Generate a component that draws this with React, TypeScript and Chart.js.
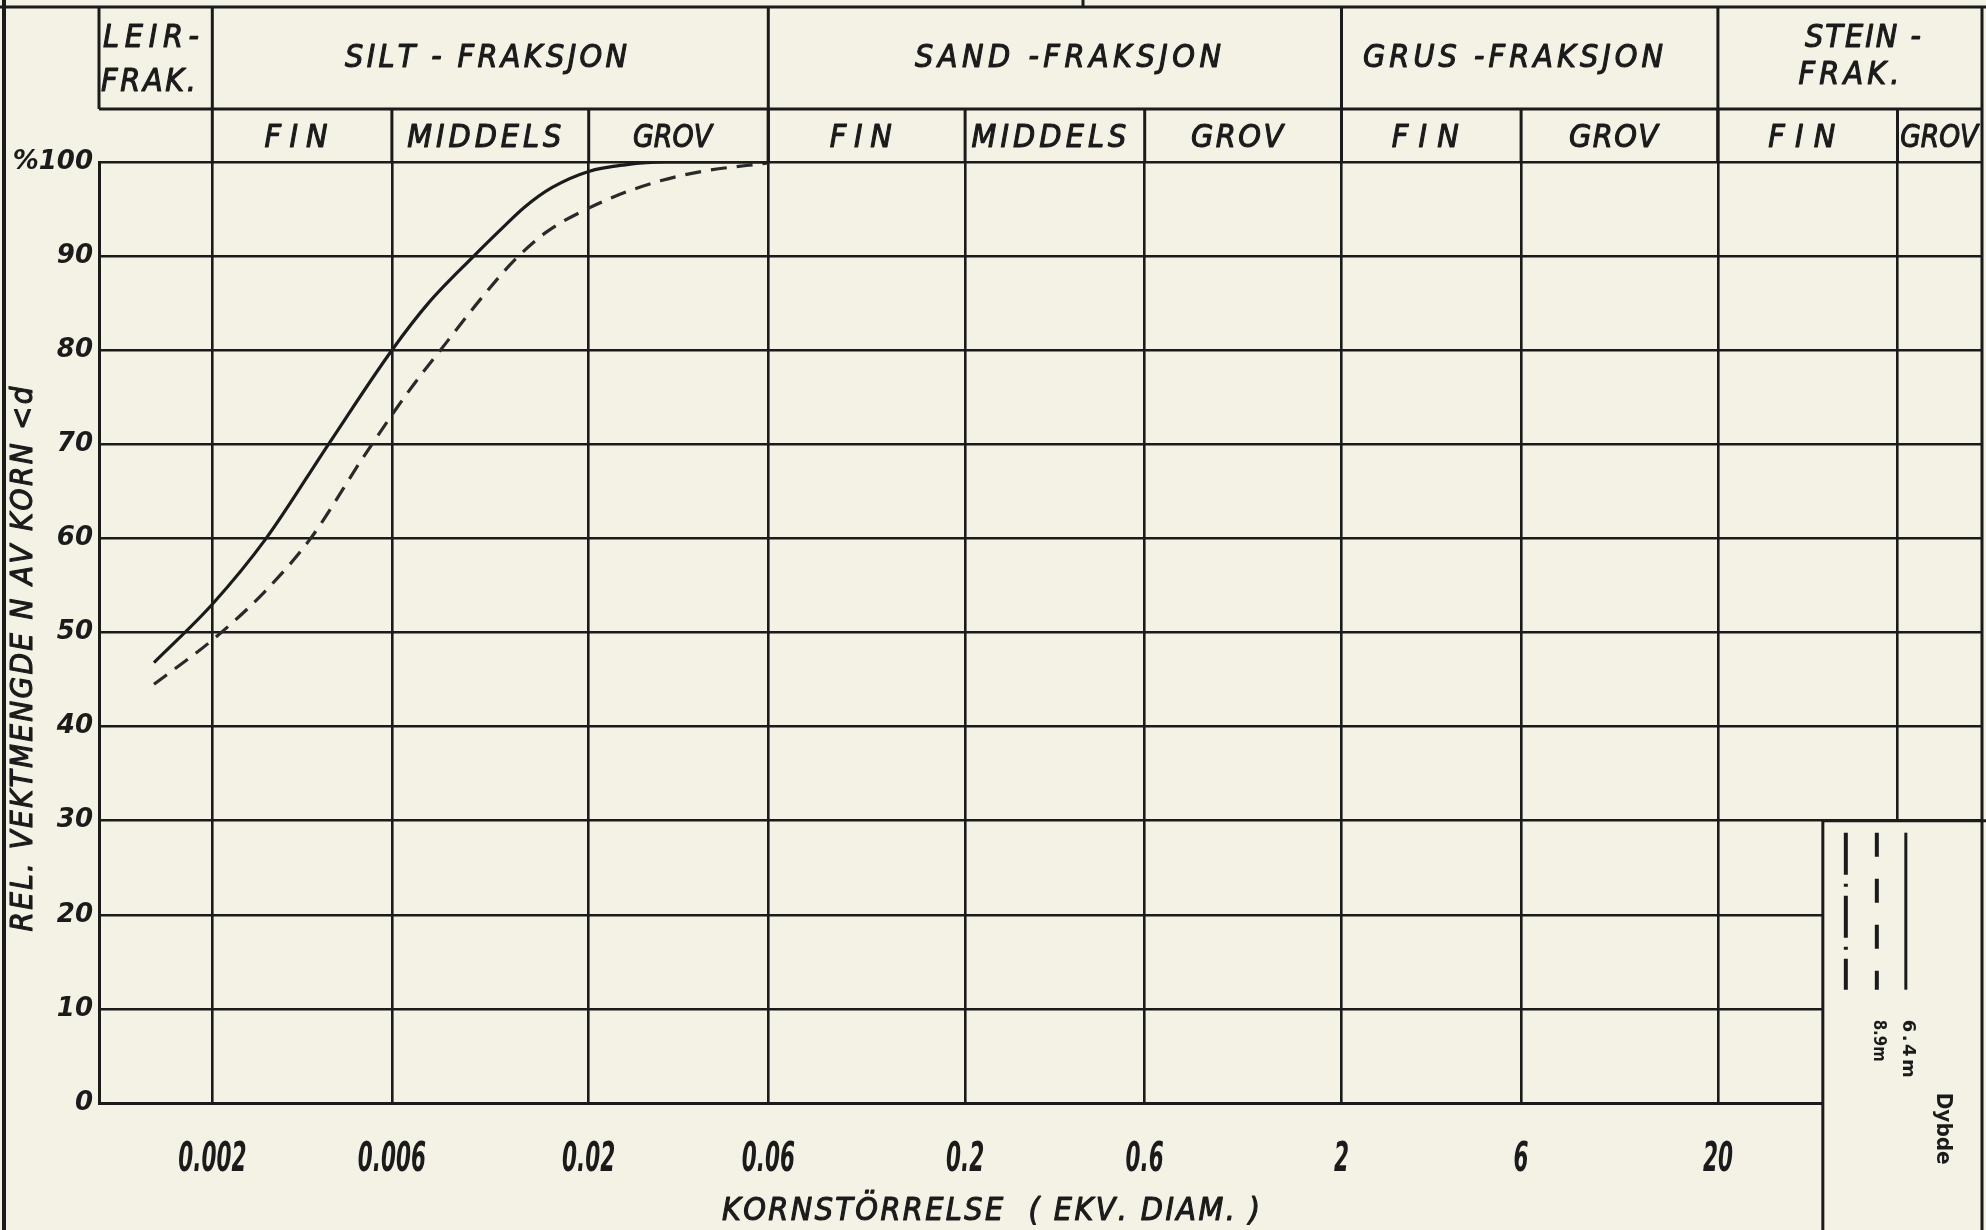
import React, { useEffect, useRef } from 'react';
import { Chart, registerables } from 'chart.js';

Chart.register(...registerables);

// ---------------- data ----------------
const xTickValues = [0.002, 0.006, 0.02, 0.06, 0.2, 0.6, 2, 6, 20, 60];
const xTickLabels = ['0.002', '0.006', '0.02', '0.06', '0.2', '0.6', '2', '6', '20', ''];
const yTickValues = [0, 10, 20, 30, 40, 50, 60, 70, 80, 90, 100];
const yTickLabels = ['0', '10', '20', '30', '40', '50', '60', '70', '80', '90', '%100'];

const fractionBounds = [0.001, 0.002, 0.06, 2, 20, 100];
const fractionLabels = [['LEIR-', 'FRAK.'], ['SILT - FRAKSJON'], ['SAND -FRAKSJON'], ['GRUS -FRAKSJON'], ['STEIN -', 'FRAK.']];
const subBounds = [0.002, 0.006, 0.02, 0.06, 0.2, 0.6, 2, 6, 20, 60, 100];
const subLabels = ['FIN', 'MIDDELS', 'GROV', 'FIN', 'MIDDELS', 'GROV', 'FIN', 'GROV', 'FIN', 'GROV'];

// grain size (mm) and cumulative percent finer, depth 6.4 m (solid)
const size64 = [0.0014, 0.002, 0.00278, 0.00407, 0.006, 0.0075, 0.0099, 0.0118, 0.0135, 0.016, 0.02, 0.025, 0.032, 0.06];
const pass64 = [46.8, 53.0, 60.0, 70.0, 80.0, 85.0, 90.0, 93.0, 95.2, 97.3, 99.0, 99.7, 100, 100];
// depth 8.9 m (dashed)
const size89 = [0.0014, 0.002, 0.00275, 0.00365, 0.00505, 0.00664, 0.00833, 0.01031, 0.01272, 0.0155, 0.02, 0.0251, 0.031, 0.04, 0.06];
const pass89 = [44.5, 49.2, 54.3, 60, 68.7, 75.6, 80.7, 85.4, 89.6, 92.6, 95.1, 96.8, 98, 99, 99.9];

const legendLabels = ['6.4m', '8.9m'];
const legendTitle = 'Dybde';
const yTitle = 'REL. VEKTMENGDE N AV KORN <d';
const xTitle = 'KORNSTÖRRELSE  ( EKV. DIAM. )';

// ---------------- styles / layout ----------------
const W = 1986;
const H = 1230;
const BG = '#f3f2e5';
const INK = '#1b1b1b';
const NARROW = '"Liberation Sans Narrow", "DejaVu Sans Condensed", "Liberation Sans", sans-serif';
const HEADER_TOP = 7;
const HEADER_MID = 109;
const row1TextWidths = [[96, 95], [282], [306], [300], [116, 101]];
const row1TextX = [null, 486, 1068, 1513, [1863, 1849]];
const row2TextWidths = [63, 154, 79, 62, 155, 92, 67, 89, 67, 78];
const LEGEND_FROM = 38; // x value where legend box starts
const LEGEND_TOP_Y = 30; // y value where legend box starts

function fitText(ctx: CanvasRenderingContext2D, text: string, cx: number, cy: number, width: number, bold = 1.1) {
  const chars = Array.from(text);
  const widths = chars.map((c) => ctx.measureText(c).width);
  const total = widths.reduce((a, b) => a + b, 0);
  let gap = chars.length > 1 ? (width - total) / (chars.length - 1) : 0;
  let sx = 1;
  if (gap < 0) {
    sx = width / total;
    gap = 0;
  }
  ctx.save();
  ctx.translate(cx - width / 2, cy);
  ctx.scale(sx, 1);
  ctx.textAlign = 'left';
  ctx.textBaseline = 'middle';
  ctx.lineWidth = bold;
  ctx.strokeStyle = ctx.fillStyle as string;
  ctx.lineJoin = 'round';
  let x = 0;
  chars.forEach((c, i) => {
    ctx.fillText(c, x, 0);
    if (bold > 0) ctx.strokeText(c, x, 0);
    x += widths[i] + gap / sx;
  });
  ctx.restore();
}

function squeezeText(ctx: CanvasRenderingContext2D, text: string, cx: number, cy: number, sx: number) {
  ctx.save();
  ctx.translate(cx, cy);
  ctx.scale(sx, 1);
  ctx.textAlign = 'center';
  ctx.textBaseline = 'middle';
  ctx.fillText(text, 0, 0);
  ctx.restore();
}

function seg(ctx: CanvasRenderingContext2D, x1: number, y1: number, x2: number, y2: number) {
  ctx.beginPath();
  ctx.moveTo(x1, y1);
  ctx.lineTo(x2, y2);
  ctx.stroke();
}

const sheetPlugin = {
  id: 'sheet',
  beforeDraw(chart: any) {
    const ctx = chart.ctx;
    ctx.save();
    ctx.fillStyle = BG;
    ctx.fillRect(0, 0, chart.width, chart.height);
    ctx.restore();
  },
  afterDraw(chart: any) {
    const ctx: CanvasRenderingContext2D = chart.ctx;
    const xs = chart.scales.x;
    const ys = chart.scales.y;
    const ca = chart.chartArea;
    const px = (v: number) => xs.getPixelForValue(v);
    ctx.save();
    ctx.strokeStyle = INK;
    ctx.fillStyle = INK;
    ctx.lineCap = 'butt';

    // legend box (covers grid in lower right)
    const bx = px(LEGEND_FROM);
    const by = ys.getPixelForValue(LEGEND_TOP_Y);
    ctx.fillStyle = BG;
    ctx.fillRect(bx, by, W - bx, H - by);
    ctx.fillStyle = INK;
    ctx.lineWidth = 3;
    seg(ctx, bx, by - 1.5, bx, H);
    seg(ctx, bx, by, W, by);

    // header lines
    ctx.lineWidth = 3;
    seg(ctx, 0, HEADER_TOP, W, HEADER_TOP);
    seg(ctx, 1083, 0, 1083, HEADER_TOP);
    seg(ctx, px(fractionBounds[0]), HEADER_MID, px(100), HEADER_MID);
    seg(ctx, px(fractionBounds[0]), HEADER_TOP, px(fractionBounds[0]), HEADER_MID);
    for (let i = 1; i < fractionBounds.length - 1; i++) {
      const x = px(fractionBounds[i]);
      seg(ctx, x, HEADER_TOP, x, ca.top);
    }
    for (let i = 1; i < subBounds.length - 1; i++) {
      const x = px(subBounds[i]);
      seg(ctx, x, HEADER_MID, x, ca.top);
    }
    // right edge & left frame
    seg(ctx, px(100) + 1, HEADER_TOP, px(100) + 1, H);
    ctx.lineWidth = 4;
    seg(ctx, 4, 0, 4, H);

    // header texts row 1
    ctx.font = `italic 32px ${NARROW}`;
    fractionLabels.forEach((lines, i) => {
      const x0 = px(fractionBounds[i]);
      const x1 = px(fractionBounds[i + 1]);
      if (lines.length === 1) {
        const cx = (row1TextX[i] as number) ?? (x0 + x1) / 2;
        fitText(ctx, lines[0], cx, 59, row1TextWidths[i][0]);
      } else if (i === 0) {
        fitText(ctx, lines[0], x0 + 4 + row1TextWidths[i][0] / 2, 39, row1TextWidths[i][0]);
        fitText(ctx, lines[1], x0 + 2 + row1TextWidths[i][1] / 2, 83, row1TextWidths[i][1]);
      } else {
        const cxs = row1TextX[i] as number[];
        fitText(ctx, lines[0], cxs[0], 39, row1TextWidths[i][0]);
        fitText(ctx, lines[1], cxs[1], 76, row1TextWidths[i][1]);
      }
    });
    // header texts row 2
    subLabels.forEach((t, i) => {
      const x0 = px(subBounds[i]);
      const x1 = px(subBounds[i + 1]);
      const off = i === subLabels.length - 1 ? 0 : -6;
      fitText(ctx, t, (x0 + x1) / 2 + off, 139, row2TextWidths[i]);
    });

    // x tick labels
    ctx.font = `bold italic 40px "DejaVu Sans Condensed", "DejaVu Sans", sans-serif`;
    xTickValues.forEach((v, i) => {
      const t = xTickLabels[i];
      if (t) squeezeText(ctx, t, px(v), 1161, 0.6);
    });

    // axis titles
    ctx.font = `italic 31px ${NARROW}`;
    ctx.save();
    ctx.translate(24, 659);
    ctx.rotate(-Math.PI / 2);
    fitText(ctx, yTitle, 0, 0, 545);
    ctx.restore();
    ctx.font = `italic 32px ${NARROW}`;
    fitText(ctx, xTitle, 991, 1212, 538);

    // legend samples
    const top = by + 12;
    const bottom = by + 169;
    ctx.lineWidth = 4;
    ctx.setLineDash([42, 9, 3, 9]);
    seg(ctx, bx + 23, top, bx + 23, bottom);
    ctx.setLineDash([24, 22]);
    seg(ctx, bx + 54, top, bx + 54, bottom);
    ctx.setLineDash([]);
    ctx.lineWidth = 3;
    seg(ctx, bx + 83, top, bx + 83, bottom);

    // legend texts (rotated, reading downward)
    ctx.font = `bold 18px "DejaVu Sans", sans-serif`;
    const rot = (t: string, x: number, y: number, w: number) => {
      ctx.save();
      ctx.translate(x, y + w / 2);
      ctx.rotate(Math.PI / 2);
      fitText(ctx, t, 0, 0, w, 0);
      ctx.restore();
    };
    rot(legendLabels[0], bx + 85, by + 199, 58);
    rot(legendLabels[1], bx + 56, by + 199, 42);
    ctx.font = `bold 21px "DejaVu Sans", sans-serif`;
    rot(legendTitle, bx + 120, by + 272, 72);

    ctx.restore();
  },
};

export default function App() {
  const ref = useRef<HTMLCanvasElement>(null);
  useEffect(() => {
    document.body.style.margin = '0';
    const canvas = ref.current!;
    const chart = new Chart(canvas, {
      type: 'line',
      data: {
        datasets: [
          {
            label: legendLabels[0],
            data: size64.map((x, i) => ({ x, y: pass64[i] })),
            borderColor: INK,
            borderWidth: 3.2,
            pointRadius: 0,
            fill: false,
            cubicInterpolationMode: 'monotone',
          },
          {
            label: legendLabels[1],
            data: size89.map((x, i) => ({ x, y: pass89[i] })),
            borderColor: '#2a2a2a',
            borderWidth: 3.2,
            borderDash: [16, 10],
            pointRadius: 0,
            fill: false,
            cubicInterpolationMode: 'monotone',
          },
        ],
      },
      options: {
        responsive: false,
        animation: false,
        devicePixelRatio: 1,
        layout: { padding: { top: 162, right: 5, left: 0, bottom: 0 } },
        plugins: { legend: { display: false }, tooltip: { enabled: false } },
        scales: {
          x: {
            type: 'logarithmic',
            min: 0.001,
            max: 100,
            afterBuildTicks: (s: any) => {
              s.ticks = xTickValues.map((value) => ({ value }));
            },
            afterFit: (s: any) => {
              s.height = 127;
            },
            grid: { color: INK, lineWidth: 2.6, drawTicks: false },
            border: { color: INK, width: 3 },
            ticks: {
              display: false,
              autoSkip: false,
              maxRotation: 0,
              minRotation: 0,
              callback: (_v: any, i: number) => xTickLabels[i] ?? '',
            },
          },
          y: {
            min: 0,
            max: 100,
            afterBuildTicks: (s: any) => {
              s.ticks = yTickValues.map((value) => ({ value }));
            },
            afterFit: (s: any) => {
              s.width = 99;
            },
            grid: { color: INK, lineWidth: 2.6, drawTicks: false },
            border: { color: INK, width: 3 },
            ticks: {
              padding: 6,
              color: INK,
              font: { family: '"DejaVu Sans", sans-serif', size: 26, weight: 'bold', style: 'italic' },
              callback: (_v: any, i: number) => yTickLabels[i] ?? '',
            },
          },
        },
      } as any,
      plugins: [sheetPlugin],
    });
    return () => chart.destroy();
  }, []);
  return (
    <div style={{ width: W, height: H, position: 'relative', overflow: 'hidden' }}>
      <canvas ref={ref} width={W} height={H} style={{ display: 'block', width: W, height: H }} />
    </div>
  );
}
